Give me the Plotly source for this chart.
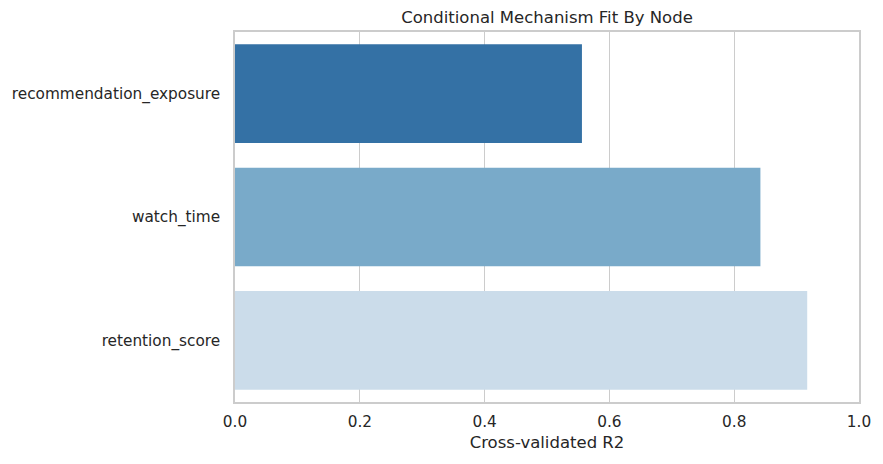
import plotly.graph_objects as go

nodes = ["recommendation_exposure", "watch_time", "retention_score"]
r2_scores = [0.556, 0.842, 0.917]
bar_colors = ["#3471a5", "#79aac9", "#cbdcea"]

fig = go.Figure()
fig.add_trace(go.Bar(
    x=r2_scores, y=nodes, orientation="h",
    marker=dict(color=bar_colors, line=dict(width=0)),
    width=0.8, showlegend=False,
))

axis_font = dict(family="DejaVu Sans", size=15.3, color="#262626")
label_font = dict(family="DejaVu Sans", size=16.5, color="#262626")
fig.update_layout(
    width=883, height=464,
    plot_bgcolor="white", paper_bgcolor="white",
    margin=dict(l=230, r=18, t=32, b=62),
    title=dict(text="Conditional Mechanism Fit By Node", x=0.5, xanchor="center",
               xref="paper", y=1, yref="container", yanchor="top", pad=dict(t=11),
               font=label_font),
    font=axis_font,
)
fig.update_xaxes(
    range=[0, 1], tickvals=[0, 0.2, 0.4, 0.6, 0.8, 1.0],
    ticktext=["0.0", "0.2", "0.4", "0.6", "0.8", "1.0"],
    showgrid=True, gridcolor="#cccccc", gridwidth=1.2,
    showline=True, linecolor="#cccccc", linewidth=1.5, mirror=True,
    zeroline=False, ticks="", ticklabelstandoff=5,
    title=dict(text="Cross-validated R2", font=label_font, standoff=6),
    tickfont=axis_font,
)
fig.update_yaxes(
    categoryorder="array", categoryarray=nodes, autorange="reversed",
    showgrid=False, showline=True, linecolor="#cccccc", linewidth=1.5, mirror=True,
    zeroline=False, ticks="", ticklabelstandoff=10, tickfont=axis_font,
)

fig.write_html("out.html", config={"displayModeBar": False},
               post_script="document.body.style.margin='0';")
